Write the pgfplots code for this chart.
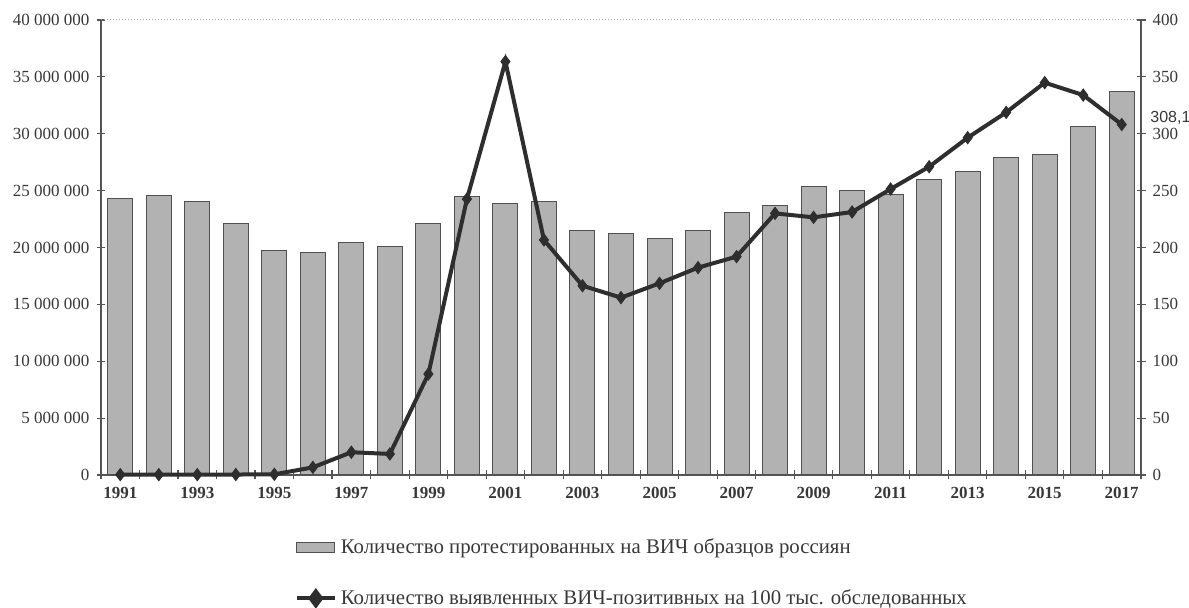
\documentclass[border=0pt]{standalone}
\usepackage{fontspec}
\setmainfont{Liberation Serif}
\newfontfamily\sansf{Liberation Sans}
\usepackage{pgfplots}
\pgfplotsset{compat=1.18}
\definecolor{barfill}{HTML}{B2B2B2}
\definecolor{baredge}{HTML}{505050}
\definecolor{linec}{HTML}{2E2E2E}
\definecolor{txt}{HTML}{383838}
\definecolor{axc}{HTML}{555555}
\begin{document}
\begin{tikzpicture}
\useasboundingbox (-50.5pt,-66.5pt) rectangle (544pt,237.5pt);
\begin{axis}[
  scale only axis, width=520pt, height=227.5pt,
  at={(0,0)}, anchor=south west,
  xmin=1990.5, xmax=2017.5, ymin=0, ymax=40000000,
  axis lines*=left,
  axis line style={axc, line width=0.6pt},
  tick style={axc, line width=0.6pt},
  major tick length=4.5pt, tick align=center,
  xtick={1990.5,1991.5,...,2017.5}, xticklabels={},
  extra x ticks={1991,1993,...,2017},
  extra x tick labels={1991,1993,1995,1997,1999,2001,2003,2005,2007,2009,2011,2013,2015,2017},
  extra x tick style={major tick length=0pt, xticklabel style={font=\fontsize{8.5}{10}\selectfont\bfseries, text=txt, yshift=-2.5pt}},
  ytick={0,5000000,10000000,15000000,20000000,25000000,30000000,35000000,40000000},
  yticklabels={0,5 000 000,10 000 000,15 000 000,20 000 000,25 000 000,30 000 000,35 000 000,40 000 000},
  yticklabel style={font=\fontsize{8.5}{10}\selectfont, text=txt},
  scaled y ticks=false,
  clip=false,
]
\draw[densely dotted, gray!70, line width=0.5pt] (rel axis cs:0,1) -- (rel axis cs:1,1);
\addplot[ybar, bar width=12.5pt, fill=barfill, draw=baredge, line width=0.5pt] coordinates {
(1991,24350000) (1992,24600000) (1993,24060000) (1994,22100000) (1995,19700000)
(1996,19600000) (1997,20450000) (1998,20100000) (1999,22070000) (2000,24500000)
(2001,23900000) (2002,24000000) (2003,21500000) (2004,21250000) (2005,20800000)
(2006,21500000) (2007,23100000) (2008,23650000) (2009,25400000) (2010,24970000)
(2011,24700000) (2012,26000000) (2013,26700000) (2014,27900000) (2015,28200000)
(2016,30600000) (2017,33700000)
};
\end{axis}
\begin{axis}[
  scale only axis, width=520pt, height=227.5pt,
  at={(0,0)}, anchor=south west,
  xmin=1990.5, xmax=2017.5, ymin=0, ymax=400,
  axis y line*=right, axis x line=none,
  axis line style={axc, line width=0.6pt},
  tick style={axc, line width=0.6pt},
  major tick length=4.5pt, tick align=center,
  ytick={0,50,...,400},
  yticklabels={0,50,100,150,200,250,300,350,400},
  yticklabel style={font=\fontsize{8.5}{10}\selectfont, text=txt},
  clip=false,
  legend style={draw=none, fill=none, at={(0.186,-0.13)}, anchor=north west,
    font=\fontsize{10.4}{12}\selectfont, text=txt, row sep=12.5pt, inner sep=0pt},
  legend cell align=left,
]
\addlegendimage{legend image code/.code={\draw[fill=barfill,draw=baredge,line width=0.5pt] (0pt,-2.5pt) rectangle (19pt,2.5pt);}}
\addlegendentry{Количество протестированных на ВИЧ образцов россиян}
\addplot[linec, line width=2pt, mark=diamond*, mark size=3pt, mark options={fill=linec, line width=0.5pt},
  legend image code/.code={\draw[linec,line width=2pt] (0pt,0pt)--(19pt,0pt); \draw[fill=linec,draw=linec] (9.5pt,0pt) +(-2.6pt,0pt) -- +(0pt,3.5pt) -- +(2.6pt,0pt) -- +(0pt,-3.5pt) -- cycle;}] coordinates {
(1991,0.3) (1992,0.3) (1993,0.3) (1994,0.4) (1995,0.6) (1996,6.7) (1997,20) (1998,18.5)
(1999,88.8) (2000,242.6) (2001,363.4) (2002,206.6) (2003,166.4) (2004,155.9) (2005,168.5)
(2006,182.3) (2007,192) (2008,230) (2009,226.5) (2010,231.2) (2011,251.4) (2012,271)
(2013,296.5) (2014,318.8) (2015,344.9) (2016,334) (2017,308.1)
};
\addlegendentry{Количество выявленных ВИЧ-позитивных на 100 тыс. обследованных}
\node[anchor=west, font=\sansf\fontsize{8}{10}\selectfont, text=txt, inner sep=0pt] at (axis cs:2017.5,314) [xshift=4.5pt] {308,1};
\end{axis}
\end{tikzpicture}
\end{document}
